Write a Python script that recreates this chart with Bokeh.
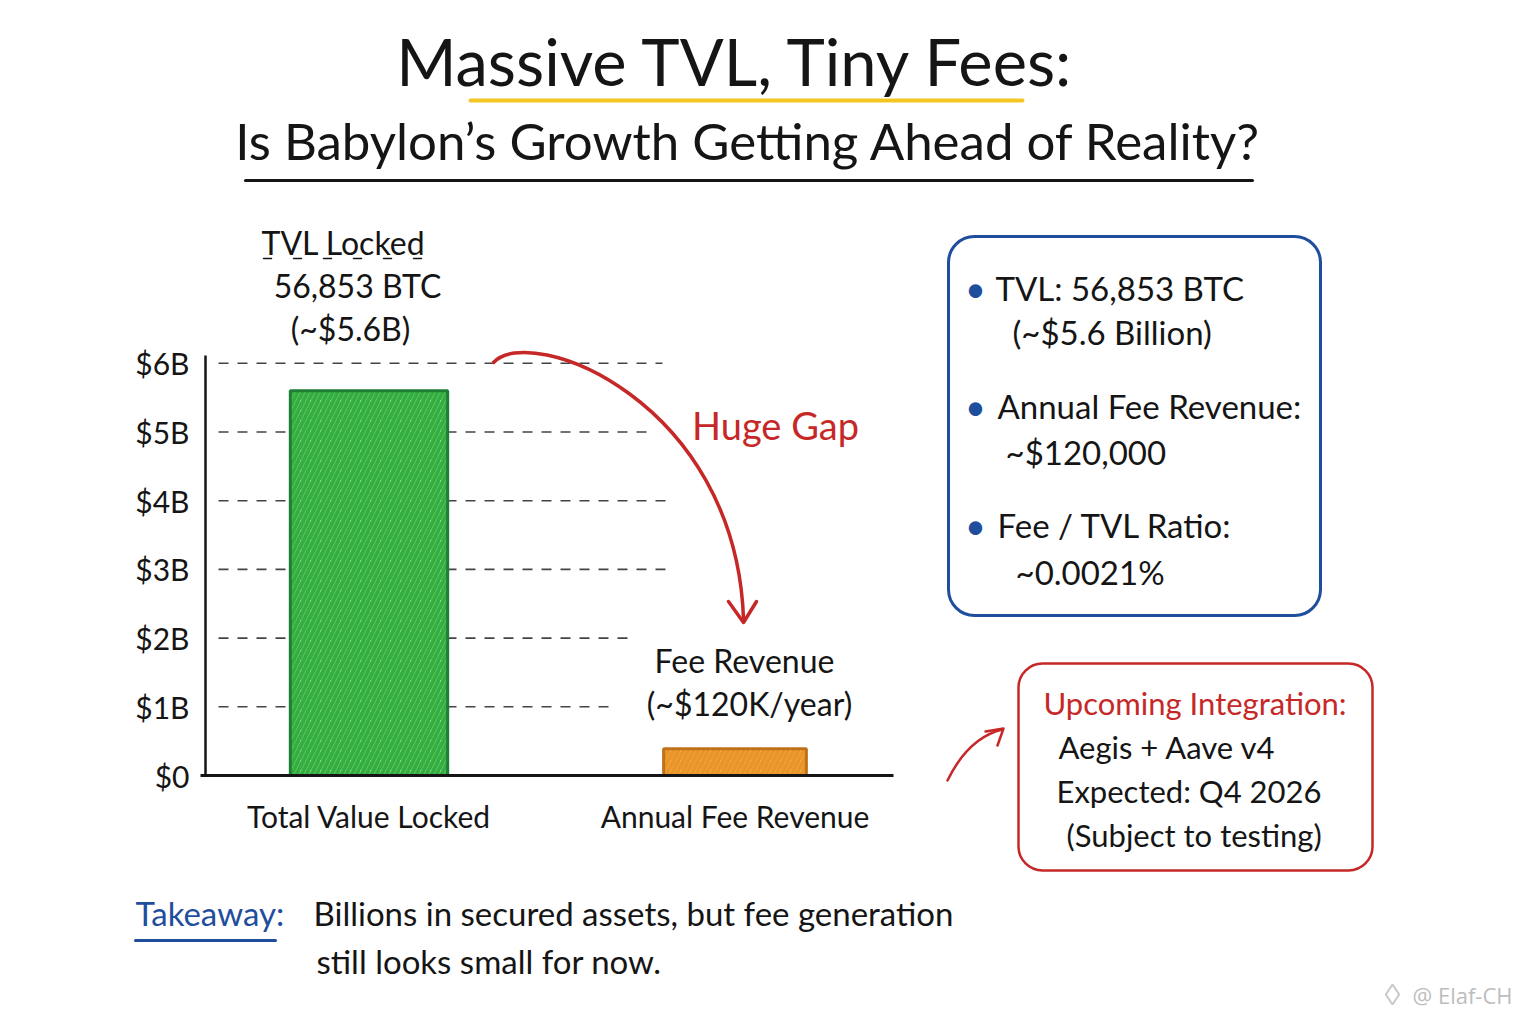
from bokeh.plotting import figure
from bokeh.models import (Range1d, LinearAxis, FixedTicker, Label, BoxAnnotation,
                          ColumnDataSource)
from bokeh.embed import file_html
from bokeh.resources import INLINE

# ---------------- data ----------------
categories = ["Total Value Locked", "Annual Fee Revenue"]
bar_values_b = [5.6, 0.39]          # $ billions, as drawn (fee bar is exaggerated in the original)
y_ticks = [0, 1, 2, 3, 4, 5, 6]
y_tick_labels = ["$0", "$1B", "$2B", "$3B", "$4B", "$5B", "$6B"]
tvl_label_lines = ["TVL Locked", "56,853 BTC", "(~$5.6B)"]
fee_label_lines = ["Fee Revenue", "(~$120K/year)"]
stats_lines = [["TVL: 56,853 BTC", "(~$5.6 Billion)"],
               ["Annual Fee Revenue:", "~$120,000"],
               ["Fee / TVL Ratio:", "~0.0021%"]]
integration_lines = ["Upcoming Integration:", "Aegis + Aave v4",
                     "Expected: Q4 2026", "(Subject to testing)"]

# ---------------- geometry / style ----------------
W, H = 1520, 1008
KX, KY = 366.0, 68.7
X0 = -368.5 / KX
X1 = X0 + W / KX
Y0 = -(H - 775) / KY
Y1 = Y0 + H / KY
FONT = "Lato"
INK = "#151515"
RED = "#C62828"
BLUE = "#1F4E9C"


def dx(px):
    return X0 + px / KX


def dy(py):
    return Y0 + (H - py) / KY


p = figure(width=W, height=H, x_range=Range1d(X0, X1), y_range=Range1d(Y0, Y1),
           x_axis_location=None, y_axis_location=None, toolbar_location=None,
           output_backend="svg", min_border=0, outline_line_color=None,
           background_fill_color="white", border_fill_color="white")
p.xgrid.visible = False
p.ygrid.visible = False


def label(px, py, text, size=32, color=INK, align="left", font=FONT, style="normal"):
    p.add_layout(Label(x=dx(px), y=dy(py), text=text, text_align=align,
                       text_baseline="middle", text_font=font, text_font_size=f"{size}px",
                       text_color=color, text_font_style=style))


def seg(x0, y0, x1, y1, color=INK, width=3, dash="solid"):
    p.segment(x0=[dx(x0)], y0=[dy(y0)], x1=[dx(x1)], y1=[dy(y1)],
              line_color=color, line_width=width, line_dash=dash, line_cap="round")


# ---------------- title ----------------
label(736, 60, "Massive TVL, Tiny Fees:", size=65, align="center")
seg(470, 100, 1022, 100, color="#F3C623", width=4)
label(748, 140, "Is Babylon\u2019s Growth Getting Ahead of Reality?", size=51, align="center")
seg(245, 180, 1252, 180, color=INK, width=3)

# ---------------- dashed gridlines ----------------
grid_end_px = [610, 636, 668, 668, 650, 662]
gx0 = [dx(218)] * 6
gx1 = [dx(e) for e in grid_end_px]
p.segment(x0=gx0, y0=y_ticks[1:], x1=gx1, y1=y_ticks[1:], line_color="#444444",
          line_width=1.6, line_dash="10 9")

# ---------------- bars ----------------
src = ColumnDataSource(dict(
    x=list(range(len(categories))), top=bar_values_b,
    width=[0.43, 0.39],
    fill=["#86D884", "#F4B04A"], line=["#1E7F34", "#C0701A"],
    hatch=["#34AE40", "#E8952A"]))
p.vbar(x="x", top="top", width="width", bottom=0, source=src,
       fill_color="fill", line_color="line", line_width=3,
       hatch_pattern="/", hatch_color="hatch", hatch_weight=4, hatch_scale=10)

# ---------------- axes ----------------
yaxis = LinearAxis(fixed_location=dx(205), bounds=(0, 6.12),
                   ticker=FixedTicker(ticks=y_ticks),
                   major_label_overrides={t: l for t, l in zip(y_ticks, y_tick_labels)},
                   major_tick_in=0, major_tick_out=0, minor_tick_in=0, minor_tick_out=0,
                   axis_line_width=2.5, axis_line_color=INK,
                   major_label_text_font=FONT, major_label_text_font_size="30px",
                   major_label_text_color=INK, major_label_standoff=16)
p.add_layout(yaxis, "left")
xaxis = LinearAxis(fixed_location=0, bounds=(dx(200), dx(893)),
                   ticker=FixedTicker(ticks=list(range(len(categories)))),
                   major_label_overrides={i: c for i, c in enumerate(categories)},
                   major_tick_in=0, major_tick_out=0, minor_tick_in=0, minor_tick_out=0,
                   axis_line_width=3, axis_line_color=INK,
                   major_label_text_font=FONT, major_label_text_font_size="30px",
                   major_label_text_color=INK, major_label_standoff=22)
p.add_layout(xaxis, "below")

# ---------------- bar annotations ----------------
label(343, 242, tvl_label_lines[0], size=32, align="center")
seg(263, 258, 425, 258, width=1.5, dash="8 22")
label(357, 285, tvl_label_lines[1], size=32, align="center")
label(350, 328, tvl_label_lines[2], size=32, align="center")
label(744, 660, fee_label_lines[0], size=32, align="center")
label(749, 703, fee_label_lines[1], size=32, align="center")

# ---------------- huge gap arrow ----------------
p.bezier(x0=[dx(493)], y0=[dy(362)], x1=[dx(743)], y1=[dy(618)],
         cx0=[dx(530)], cy0=[dy(322)], cx1=[dx(735)], cy1=[dy(400)],
         line_color=RED, line_width=3.5, line_cap="round")
p.multi_line(xs=[[dx(728), dx(743), dx(756)]], ys=[[dy(601), dy(622), dy(601)]],
             line_color=RED, line_width=3.5, line_cap="round", line_join="round")
label(775, 424, "Huge Gap", size=38, color=RED, align="center")

# ---------------- stats box ----------------
p.add_layout(BoxAnnotation(left=dx(948), right=dx(1320), top=dy(236), bottom=dy(615),
                           border_radius=26, fill_color="white", fill_alpha=1.0,
                           line_color=BLUE, line_alpha=1.0, line_width=3))
rows_y = [(287, 331), (405, 451), (524, 571)]
indents = [(995, 1012), (997, 1005), (997, 1015)]
for (l1, l2), (y1, y2), (i1, i2) in zip(stats_lines, rows_y, indents):
    label(975, y1, "\u2022", size=36, color=BLUE, align="center")
    label(i1, y1, l1, size=33)
    label(i2, y2, l2, size=33)

# ---------------- integration box ----------------
p.add_layout(BoxAnnotation(left=dx(1018), right=dx(1372), top=dy(663), bottom=dy(870),
                           border_radius=24, fill_color="white", fill_alpha=1.0,
                           line_color=RED, line_alpha=1.0, line_width=2.5))
for txt, yy, xx, col in zip(integration_lines, [702, 746, 790, 834],
                            [1043, 1058, 1056, 1066], [RED, INK, INK, INK]):
    label(xx, yy, txt, size=31, color=col)
p.quadratic(x0=[dx(947)], y0=[dy(780)], x1=[dx(1002)], y1=[dy(729)],
            cx=[dx(968)], cy=[dy(737)], line_color=RED, line_width=2.5, line_cap="round")
p.multi_line(xs=[[dx(985), dx(1003), dx(997)]], ys=[[dy(731), dy(728), dy(745)]],
             line_color=RED, line_width=2.5, line_cap="round", line_join="round")

# ---------------- takeaway ----------------
label(135, 912, "Takeaway:", size=33, color=BLUE)
seg(135, 940, 275, 940, color=BLUE, width=3)
label(313, 912, "Billions in secured assets, but fee generation", size=33)
label(316, 960, "still looks small for now.", size=33)

# ---------------- watermark ----------------
p.scatter(x=[dx(1392)], y=[dy(994)], marker="diamond", size=20, fill_color=None,
          line_color="#C8C8C8", line_width=2)
label(1512, 994, "@ Elaf-CH", size=22, color="#BDBDBD", align="right", font="Open Sans")

open("out.html", "w").write(file_html(p, INLINE))
